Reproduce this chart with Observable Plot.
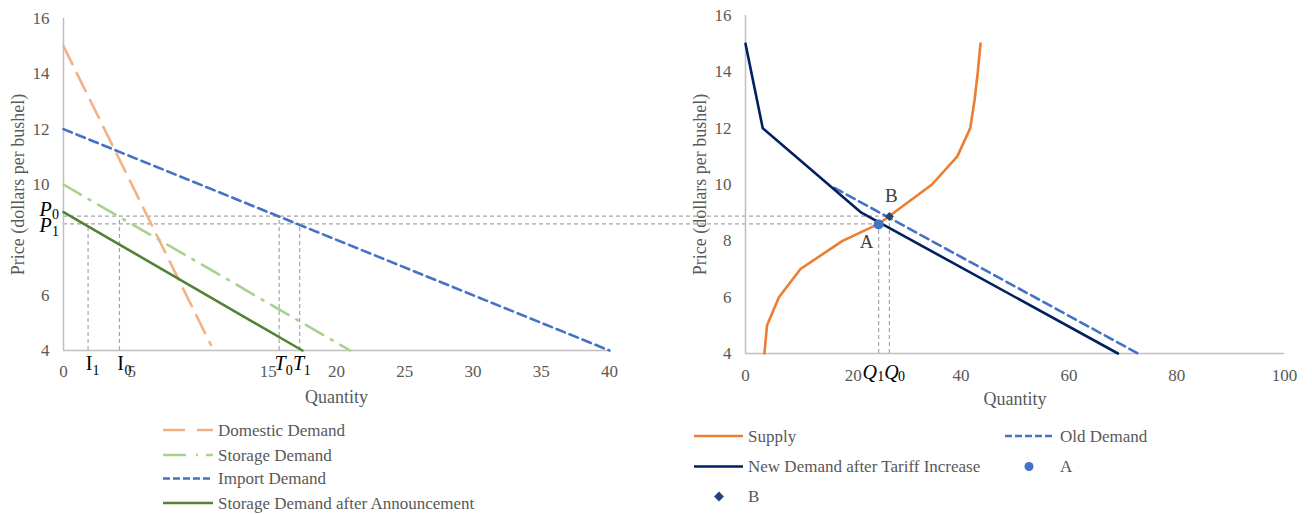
<!DOCTYPE html>
<html><head><meta charset="utf-8">
<script src="https://cdn.jsdelivr.net/npm/d3@7"></script>
<script src="https://cdn.jsdelivr.net/npm/@observablehq/plot@0.6"></script>
<style>
body{margin:0;background:#fff;}
#wrap{position:relative;width:1312px;height:514px;overflow:hidden;background:#fff;}
#wrap svg{position:absolute;left:0;top:0;}
</style></head><body><div id="wrap"></div>
<script>
// ---------- data ----------
// Left panel: storage / import market
const domesticQ = [0, 10.8];
const domesticP = [15, 4.2];
const storageQ = [0, 21];
const storageP = [10, 4];
const importQ = [0, 40];
const importP = [12, 4];
const storageAfterQ = [0, 17.5];
const storageAfterP = [9, 4];
const P0 = 8.86, P1 = 8.58;
const I0 = 4.1, I1 = 1.8, T0 = 15.8, T1 = 17.3;
// Right panel: supply and demand
const supplyQ = [3.5, 4.0, 6.2, 10.2, 18.0, 24.7, 34.6, 39.3, 41.7, 42.5, 43.1, 43.6];
const supplyP = [4, 5, 6, 7, 8, 8.6, 10, 11, 12, 13, 14, 15];
const newDemandQ = [0, 3.2, 21.5, 69.1];
const newDemandP = [15, 12, 9, 4];
const oldDemandQ = [16.5, 72.8];
const oldDemandP = [9.88, 4];
const Q0 = 26.7, Q1 = 24.7;
// Tick labels
const leftXTicks = [0, 5, 15, 20, 25, 30, 35, 40];
const leftYTicks = [4, 6, 10, 12, 14, 16];
const rightXTicks = [0, 20, 40, 60, 80, 100];
const rightYTicks = [4, 6, 8, 10, 12, 14, 16];
// Legend labels
const leftLegend = ["Domestic Demand", "Storage Demand", "Import Demand", "Storage Demand after Announcement"];
const rightLegend = ["Supply", "Old Demand", "New Demand after Tariff Increase", "A", "B"];

// ---------- helpers ----------
const zip = (qs, ps) => qs.map((q, i) => ({q, p: ps[i]}));
const font = "'Liberation Serif','Times New Roman',serif";
const gray = "#595959";
const guide = {stroke: "#a6a6a6", strokeWidth: 1.2, strokeDasharray: "4,3"};
const axisLine = {stroke: "#c0c0c0", strokeWidth: 1.5};
const W = 1312, H = 410;
// pixel frames (shared coordinate system; both svgs overlay at 0,0)
const xL = d3.scaleLinear([0, 40], [63, 609]);
const xR = d3.scaleLinear([0, 100], [745, 1284]);

function mathLabel(x, y, main, s, o) {
  return [
    Plot.text([0], {x: () => x, y: () => y, text: () => main, dx: o.mdx, dy: o.mdy,
      fontSize: 20, fontStyle: o.italic ? "italic" : "normal", fill: "#000",
      textAnchor: "middle", lineAnchor: "middle", fontFamily: font}),
    Plot.text([0], {x: () => x, y: () => y, text: () => s, dx: o.sdx, dy: o.sdy,
      fontSize: 14, fill: "#000", textAnchor: "middle", lineAnchor: "middle", fontFamily: font})
  ];
}
const svgStyle = {background: "transparent", color: gray, fontFamily: font, fontSize: "17px", overflow: "visible", maxWidth: "none"};

// ---------- left panel ----------
const hGuides = [
  {p: P0, q1: 0, q2: xL.invert(xR(Q0))},
  {p: P1, q1: 0, q2: xL.invert(xR(Q1))}
];
const vGuidesL = [{q: I1, p: P1}, {q: I0, p: P0}, {q: T0, p: P0}, {q: T1, p: P1}];

const left = Plot.plot({
  width: W, height: H,
  marginLeft: 63, marginRight: W - 609, marginTop: 18, marginBottom: H - 350,
  x: {domain: [0, 40]}, y: {domain: [4, 16]},
  style: svgStyle,
  marks: [
    Plot.ruleY(hGuides, {y: "p", x1: "q1", x2: "q2", ...guide}),
    Plot.ruleX(vGuidesL, {x: "q", y1: () => 4, y2: "p", ...guide}),
    Plot.ruleX([0], axisLine),
    Plot.ruleY([4], axisLine),
    Plot.axisX({ticks: leftXTicks, tickSize: 0, tickPadding: 14, label: null, fontSize: 17}),
    Plot.axisY({ticks: leftYTicks, tickSize: 0, tickPadding: 14, label: null, fontSize: 17}),
    Plot.line(zip(domesticQ, domesticP), {x: "q", y: "p", stroke: "#F4B183", strokeWidth: 2.6, strokeDasharray: "20,10"}),
    Plot.line(zip(storageQ, storageP), {x: "q", y: "p", stroke: "#A9D18E", strokeWidth: 2.6, strokeDasharray: "20,9,2,9"}),
    Plot.line(zip(importQ, importP), {x: "q", y: "p", stroke: "#4472C4", strokeWidth: 2.6, strokeDasharray: "9,5"}),
    Plot.line(zip(storageAfterQ, storageAfterP), {x: "q", y: "p", stroke: "#548235", strokeWidth: 2.6}),
    ...mathLabel(0, P0, "P", "0", {italic: true, mdx: -18, mdy: -6.5, sdx: -8, sdy: -2}),
    ...mathLabel(0, P1, "P", "1", {italic: true, mdx: -18, mdy: 1.5, sdx: -8, sdy: 8}),
    ...mathLabel(I1, 4, "I", "1", {italic: false, mdx: 1, mdy: 13.5, sdx: 8, sdy: 20}),
    ...mathLabel(I0, 4, "I", "0", {italic: false, mdx: 1, mdy: 13.5, sdx: 8.5, sdy: 20}),
    ...mathLabel(T0, 4, "T", "0", {italic: true, mdx: 1, mdy: 13.5, sdx: 10, sdy: 20}),
    ...mathLabel(T1, 4, "T", "1", {italic: true, mdx: -1, mdy: 13.5, sdx: 7.5, sdy: 20}),
    Plot.text(["Quantity"], {frameAnchor: "bottom", dy: 52, fontSize: 18, fill: gray}),
    Plot.text(["Price (dollars per bushel)"], {frameAnchor: "left", textAnchor: "middle", rotate: -90, dx: -45, fontSize: 18, fill: gray})
  ]
});

// ---------- right panel ----------
const vGuidesR = [{q: Q1, p: P1}, {q: Q0, p: P0}];
const pointA = [{q: Q1, p: P1}];
const pointB = [{q: Q0, p: P0}];

const right = Plot.plot({
  width: W, height: H,
  marginLeft: 745, marginRight: W - 1284, marginTop: 15, marginBottom: H - 353,
  x: {domain: [0, 100]}, y: {domain: [4, 16]},
  style: svgStyle,
  marks: [
    Plot.ruleX(vGuidesR, {x: "q", y1: () => 4, y2: "p", ...guide}),
    Plot.ruleX([0], axisLine),
    Plot.ruleY([4], axisLine),
    Plot.axisX({ticks: rightXTicks, tickSize: 0, tickPadding: 15, label: null, fontSize: 17}),
    Plot.axisY({ticks: rightYTicks, tickSize: 0, tickPadding: 14, label: null, fontSize: 17}),
    Plot.line(zip(supplyQ, supplyP), {x: "q", y: "p", stroke: "#ED7D31", strokeWidth: 2.6}),
    Plot.line(zip(oldDemandQ, oldDemandP), {x: "q", y: "p", stroke: "#4472C4", strokeWidth: 2.6, strokeDasharray: "9,5"}),
    Plot.line(zip(newDemandQ, newDemandP), {x: "q", y: "p", stroke: "#002060", strokeWidth: 2.6}),
    Plot.dot(pointA, {x: "q", y: "p", r: 5, fill: "#4472C4", stroke: "none"}),
    Plot.dot(pointB, {x: "q", y: "p", r: 3.6, symbol: "square", rotate: 45, fill: "#264478", stroke: "none"}),
    Plot.text(pointA, {x: "q", y: "p", text: () => "A", dx: -12, dy: 17, fontSize: 19, fill: "#404040"}),
    Plot.text(pointB, {x: "q", y: "p", text: () => "B", dx: 2, dy: -21, fontSize: 19, fill: "#404040"}),
    ...mathLabel(Q1, 4, "Q", "1", {italic: true, mdx: -9, mdy: 19, sdx: 2, sdy: 23}),
    ...mathLabel(Q0, 4, "Q", "0", {italic: true, mdx: 2, mdy: 19, sdx: 12, sdy: 23}),
    Plot.text(["Quantity"], {frameAnchor: "bottom", dy: 51, fontSize: 18, fill: gray}),
    Plot.text(["Price (dollars per bushel)"], {frameAnchor: "left", textAnchor: "middle", rotate: -90, dx: -45, fontSize: 18, fill: gray})
  ]
});

const wrap = document.getElementById("wrap");
wrap.appendChild(left);
wrap.appendChild(right);

// ---------- legends ----------
const leg = d3.select(wrap).append("svg").attr("width", W).attr("height", 514)
  .style("font-family", font).style("font-size", "17px");
function legLine(x1, x2, y, stroke, dash) {
  leg.append("line").attr("x1", x1).attr("x2", x2).attr("y1", y).attr("y2", y)
    .attr("stroke", stroke).attr("stroke-width", 2.6).attr("stroke-dasharray", dash || null);
}
function legText(x, y, t) {
  leg.append("text").attr("x", x).attr("y", y).attr("dy", "0.35em").attr("fill", gray).text(t);
}
// left legend
const lRows = [430, 455, 478.5, 503];
legLine(163, 213, lRows[0], "#F4B183", "22,12");
legLine(163, 213, lRows[1], "#A9D18E", "23,10,2,8");
legLine(163, 213, lRows[2], "#4472C4", "7,3");
legLine(163, 213, lRows[3], "#548235");
leftLegend.forEach((t, i) => legText(218, lRows[i], t));
// right legend
legLine(694, 743, 436, "#ED7D31");
legText(748, 436, rightLegend[0]);
legLine(1005, 1055, 436, "#4472C4", "7,3");
legText(1060, 436, rightLegend[1]);
legLine(694, 743, 466.5, "#002060");
legText(748, 466.5, rightLegend[2]);
leg.append("circle").attr("cx", 1029).attr("cy", 466.5).attr("r", 4.5).attr("fill", "#4472C4");
legText(1060, 466.5, rightLegend[3]);
leg.append("rect").attr("x", -3.5).attr("y", -3.5).attr("width", 7).attr("height", 7)
  .attr("transform", "translate(719,496.5) rotate(45)").attr("fill", "#264478");
legText(748, 496.5, rightLegend[4]);
</script></body></html>
